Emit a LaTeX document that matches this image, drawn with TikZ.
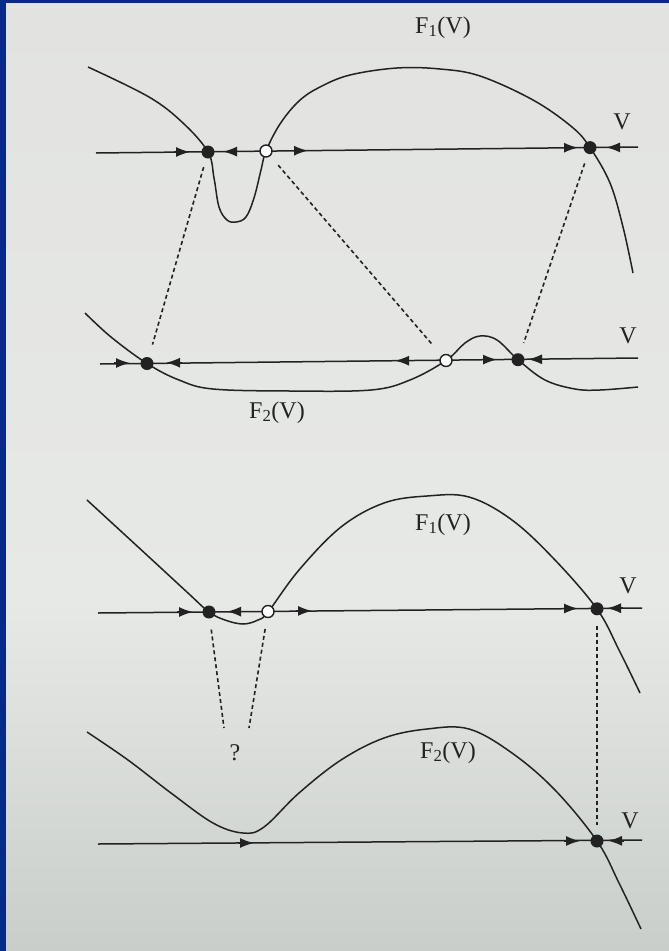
\documentclass[tikz,border=0pt]{standalone}
\usepackage{fontspec}
\setmainfont{Liberation Serif}
\usetikzlibrary{arrows.meta,calc}
\definecolor{frameblue}{HTML}{06298A}
\definecolor{ink}{HTML}{222222}
\definecolor{pagetop}{HTML}{E2E3E0}
\definecolor{pagemid}{HTML}{E7E9E6}
\definecolor{pagebot}{HTML}{C9CECB}
\newcommand\rarr[2]{\draw[arr] (#1-16,#2) -- (#1,#2);}
\newcommand\larr[2]{\draw[arr] (#1+16,#2) -- (#1,#2);}
\begin{document}
\begin{tikzpicture}[x=1pt,y=-1pt,
  curve/.style={line width=1.5pt, draw=ink, line join=round},
  axisline/.style={line width=1.5pt, draw=ink},
  arr/.style={-{Latex[length=14pt,width=10pt]}, line width=1.5pt, draw=ink, fill=ink},
  sdot/.style={circle, fill=ink, inner sep=0pt, minimum size=13pt},
  udot/.style={circle, draw=ink, fill=white, line width=1.4pt, inner sep=0pt, minimum size=12pt},
  dline/.style={line width=1.6pt, draw=ink, dash pattern=on 4pt off 3pt},
  lbl/.style={font=\fontsize{24}{26}\selectfont, text=ink, inner sep=0pt, anchor=base}]
\useasboundingbox (0,0) rectangle (669,951);
\fill[frameblue] (0,0) rectangle (669,951);
\fill[top color=pagetop, bottom color=pagemid] (6,3) rectangle (669,601);
\fill[top color=pagemid, bottom color=pagebot] (6,600) rectangle (669,951);

% ---------- panel 1 ----------
\coordinate (a1l) at (96,153); \coordinate (a1r) at (638,147);
\draw[axisline] (a1l) -- (a1r);
\draw[curve] plot[smooth, tension=0.6] coordinates {(88,67) (149,97) (183,123) (208,152) (214,178) (219,207) (227,220) (236,222) (246,217) (254,198) (261,170) (266,151) (280,124) (299,101) (320,87) (350,75) (397,68) (440,69) (480,76) (533,100) (572,127) (590,147.6) (610,183) (623,227) (633,273)};
\rarr{190}{152} \larr{223}{151.6} \rarr{308}{150.7} \rarr{578}{147.7} \larr{606}{147.4}
\node[sdot] (p1s) at (208,152) {};
\node[udot] (p1u) at (266,151) {};
\node[sdot] (p1r) at (590,147.6) {};
\node[lbl] (l1) at (443,33) {F\textsubscript{1}(V)};
\node[lbl] (v1) at (622,129) {V};

% ---------- panel 2 ----------
\coordinate (a2l) at (100,364); \coordinate (a2r) at (638,358);
\draw[axisline] (a2l) -- (a2r);
\draw[curve] plot[smooth, tension=0.6] coordinates {(85,313) (111,337) (147,363.5) (179,380) (213,389) (290,391) (371,390) (410,380) (446,360.5) (465,343) (480,336) (497,340) (518,359.7) (545,380) (575,389) (600,390) (638,387)};
\rarr{130}{363} \larr{166}{362.7} \larr{395}{360.7} \rarr{497}{359.6} \larr{528}{359.3}
\node[sdot] (p2s) at (147,363.5) {};
\node[udot] (p2u) at (446,360.5) {};
\node[sdot] (p2r) at (518,359.7) {};
\node[lbl] (l2) at (277,418) {F\textsubscript{2}(V)};
\node[lbl] (v2) at (628,343) {V};

% dashed links 1 -> 2
\draw[dline, shorten <=9pt, shorten >=13pt] (p1s) -- (p2s);
\draw[dline, shorten <=12pt, shorten >=14pt] (p1u) -- (p2u);
\draw[dline, shorten <=10pt, shorten >=11pt] (p1r) -- (p2r);

% ---------- panel 3 ----------
\coordinate (a3l) at (98,613); \coordinate (a3r) at (642,608);
\draw[axisline] (a3l) -- (a3r);
\draw[curve] plot[smooth, tension=0.6] coordinates {(87,500) (149,557) (188,593) (209,612) (225,620) (243,624) (258,620) (268,612) (299,570) (341,527) (384,503) (427,496) (469,497) (512,520) (555,560) (597,609) (619,650) (640,693)};
\rarr{193}{612} \larr{227}{611.6} \rarr{312}{610.9} \rarr{578}{608.5} \larr{607}{608.2}
\node[sdot] (p3s) at (209,612) {};
\node[udot] (p3u) at (268,611.5) {};
\node[sdot] (p3r) at (597,608.8) {};
\node[lbl] (l3) at (443,530) {F\textsubscript{1}(V)};
\node[lbl] (v3) at (628,593) {V};

% ---------- panel 4 ----------
\coordinate (a4l) at (98,844); \coordinate (a4r) at (642,840);
\draw[axisline] (a4l) -- (a4r);
\draw[curve] plot[smooth, tension=0.6] coordinates {(87,732) (128,760) (171,793) (213,823) (243,833) (264,827) (299,793) (341,760) (384,738) (427,729) (469,729) (512,753) (555,790) (597,841) (619,883) (641,929)};
\rarr{254}{843} \rarr{580}{841} \larr{608}{840.8}
\node[sdot] (p4r) at (597,841) {};
\node[lbl] (l4) at (448,758) {F\textsubscript{2}(V)};
\node[lbl] (v4) at (630,828) {V};
\node[lbl] (q) at (235,760) {?};

% dashed links 3 -> 4
\coordinate (e1) at (224,728);
\coordinate (e2) at (249,728);
\draw[dline, shorten <=11pt] (p3s) -- (e1);
\draw[dline, shorten <=11pt] (p3u) -- (e2);
\draw[dline, shorten <=10pt, shorten >=9pt] (p3r) -- (p4r);
\end{tikzpicture}
\end{document}
